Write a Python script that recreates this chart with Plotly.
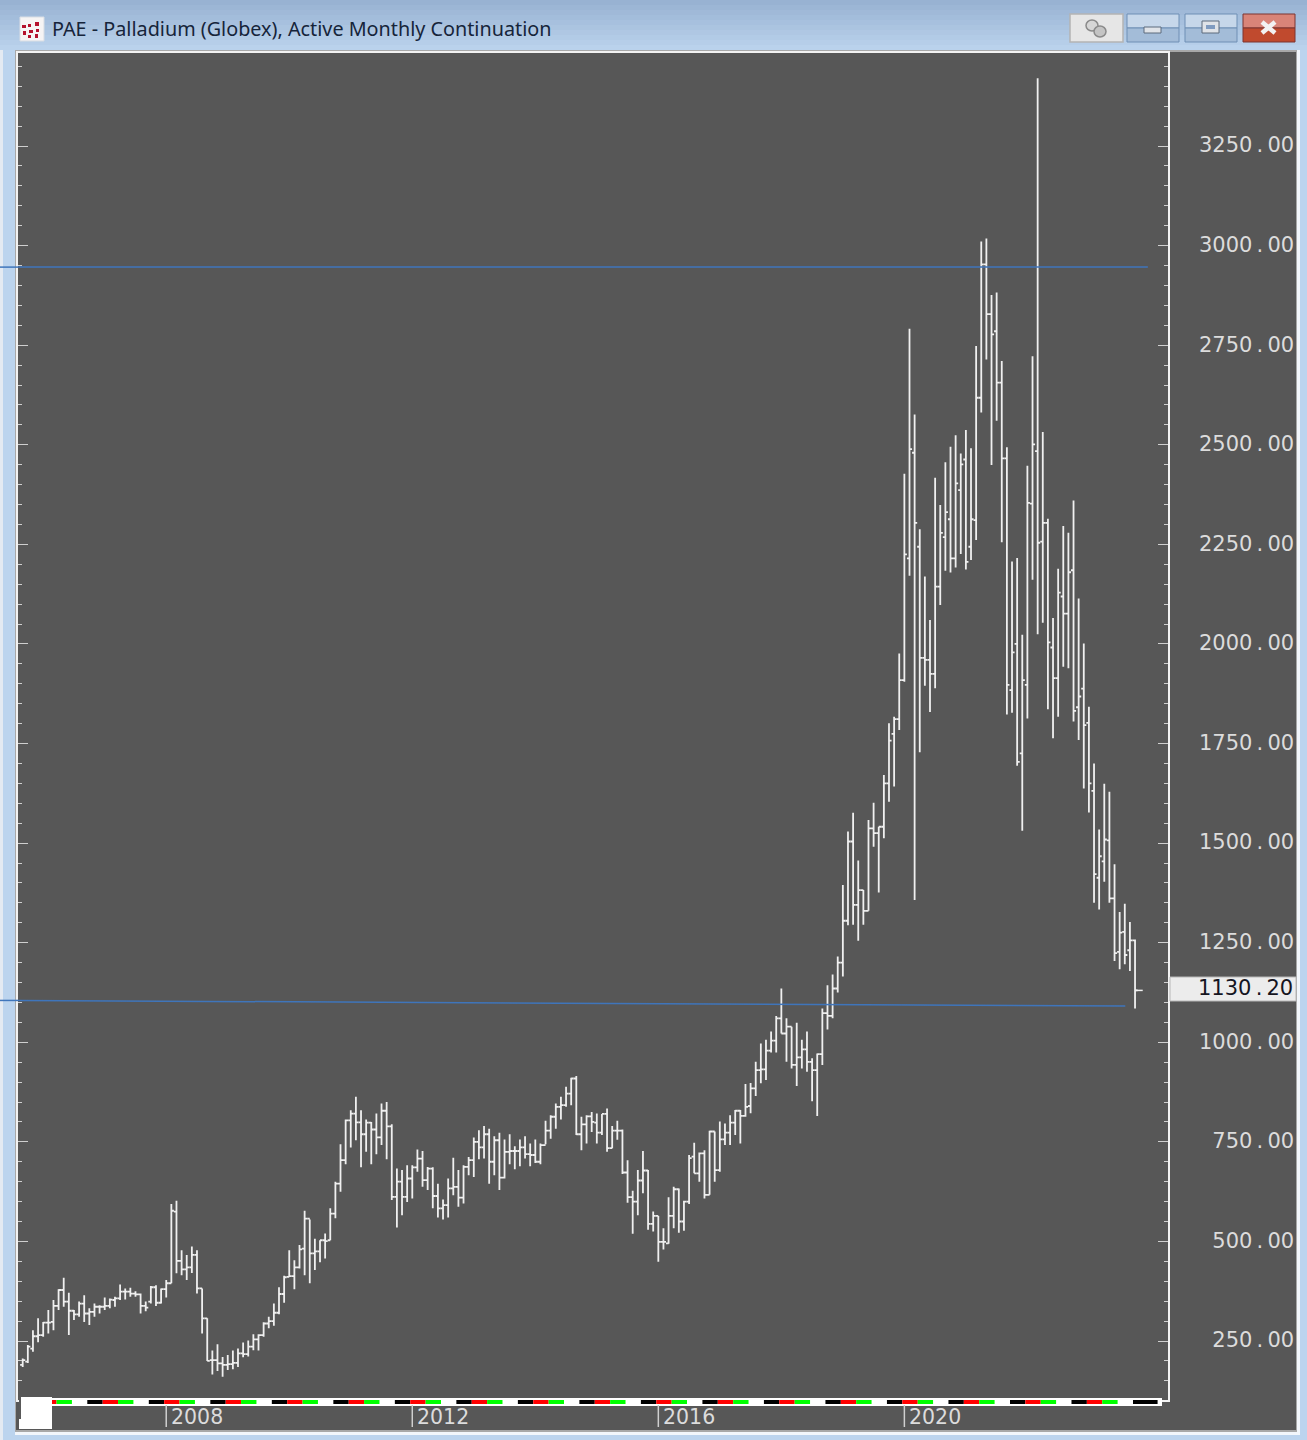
import plotly.graph_objects as go

# Monthly palladium bars, Sep 2005 to Oct 2023
highs = [206,240,277,307,298,328,353,380,409,371,328,349,365,332,344,340,359,357,361,392,382,384,375,369,349,388,390,382,403,594,
         602,478,466,487,478,382,307,226,242,210,215,226,231,246,251,267,267,297,311,344,385,414,478,453,491,577,555,507,503,520,
         583,650,744,806,829,863,829,806,800,821,846,850,794,683,679,691,691,731,727,687,686,645,605,658,710,679,691,712,761,779,
         790,783,764,773,756,769,739,756,764,746,756,746,803,817,846,863,888,911,915,813,817,825,821,820,834,790,803,781,704,627,
         679,727,679,575,564,533,611,637,633,602,717,748,723,729,778,776,801,796,817,830,830,895,898,951,997,1006,1027,1066,1135,1060,
         1039,1049,1006,1027,960,972,1085,1143,1170,1215,1395,1529,1576,1456,1382,1558,1601,1541,1671,1801,1817,1976,2427,2791,2576,2288,2169,2060,2417,2349,
         2456,2495,2524,2478,2537,2491,2748,3010,3018,2876,2882,2710,2494,2207,2216,2023,2447,2722,3420,2532,2314,2065,2189,2296,2279,2360,2114,2001,1842,1700,
         1534,1649,1629,1447,1327,1348,1302,1258]
lows = [185,195,223,247,261,269,277,328,336,265,303,311,298,290,311,319,328,332,336,353,354,361,361,319,325,344,338,344,359,395,
        420,415,403,421,369,269,200,166,175,160,177,179,185,209,211,227,226,261,282,288,317,346,411,380,432,415,395,428,448,457,
        503,558,625,694,736,754,686,725,694,719,742,706,604,535,566,599,608,675,637,629,583,560,555,560,616,587,595,666,662,706,
        708,645,666,629,658,694,681,689,708,689,697,694,744,758,783,806,838,842,767,729,746,775,746,767,725,734,755,669,597,519,
        566,621,529,525,449,480,494,533,522,527,594,671,650,608,617,650,675,742,742,767,746,813,822,865,897,905,974,974,1022,951,
        934,890,934,926,852,815,943,1032,1060,1125,1165,1294,1295,1255,1295,1330,1491,1376,1512,1604,1642,1784,1905,2171,1357,1728,1895,1829,1889,2098,
        2184,2179,2192,2226,2187,2211,2261,2581,2714,2449,2560,2255,1823,1827,1694,1531,1813,2161,2024,2053,1836,1763,1817,1943,1939,1805,1759,1637,1577,1350,
        1333,1403,1350,1204,1183,1196,1179,1085]
opens = [190,198,231,262,265,296,298,338,378,349,326,317,344,319,323,336,336,338,353,357,374,374,369,367,338,349,385,346,380,395,
         575,451,430,435,466,382,307,202,202,194,190,192,195,219,217,236,254,265,294,300,321,368,411,413,435,482,557,470,475,503,
         503,570,645,704,804,821,799,769,798,781,761,828,789,612,650,612,658,686,708,654,683,614,583,591,633,637,610,687,704,750,
         736,769,700,754,660,725,727,727,736,719,717,700,742,778,813,838,842,871,909,769,794,814,798,773,820,734,778,778,673,611,
         600,653,678,544,564,499,495,564,631,550,600,713,671,721,617,776,679,756,773,798,828,815,840,884,930,932,979,1004,1060,1022,
         1039,943,962,982,951,930,970,1073,1066,1135,1200,1305,1504,1345,1382,1330,1537,1525,1541,1650,1774,1811,1909,2215,2480,2244,1965,1960,1925,2144,
         2268,2313,2215,2386,2463,2244,2311,2618,2953,2828,2785,2656,2466,1884,2000,1725,1897,2352,2484,2257,2304,1991,1914,2119,2076,2185,1841,1888,1802,1631,
         1413,1454,1507,1361,1227,1277,1231,1256]
closes = [202,236,262,265,296,296,338,378,349,326,317,344,319,323,336,336,338,354,357,374,374,369,367,338,334,385,346,380,395,577,
          451,430,435,466,382,307,200,202,194,190,192,195,219,217,236,254,265,294,300,321,368,410,413,435,480,557,470,475,503,501,
          570,645,704,804,821,799,769,798,781,761,828,789,612,650,612,658,686,708,654,683,614,583,591,633,637,610,687,704,750,736,
          769,700,754,660,725,727,727,736,719,717,700,742,778,813,838,842,871,909,769,794,814,800,773,820,734,778,778,673,611,600,
          653,678,544,564,499,499,564,631,550,600,709,671,721,617,776,679,756,773,798,828,815,838,884,930,932,979,1004,1060,1022,1039,
          943,962,982,951,930,970,1073,1066,1135,1200,1305,1504,1345,1382,1330,1537,1525,1541,1650,1757,1811,1909,2225,2489,2304,1965,1960,1925,2144,2279,
          2331,2215,2403,2451,2206,2313,2618,2953,2828,2777,2656,2466,1897,1979,1704,1909,2354,2501,2254,2304,2004,1914,2129,2076,2180,1832,1868,1796,1650,1422,
          1467,1509,1361,1224,1275,1219,1256,1130.2]
first_year = 2005
first_month = 9
years = [2008, 2012, 2016, 2020]
y_ticks = [250, 500, 750, 1000, 1250, 1500, 1750, 2000, 2250, 2500, 2750, 3000, 3250]

# blue lines drawn by hand on the chart
level_x = [-0.9, 219.5]
level_y = [2946, 2946]
trend_x = [-0.9, 215.1]
trend_y = [1105, 1091]

BG = "#575757"
FG = "#f0f0f0"
LABEL = "#dcdcdc"
BLUE = "#3f75bb"
FONT = "DejaVu Sans"
Y_RANGE = [101.9, 3483.5]

# frame of the plot area in page pixels
L, R, T, B = 18, 1168, 53, 1400


def px(x):
    return (x - L) / (R - L)


def py(y):
    return (B - y) / (B - T)


def price_to_paper(v):
    return (v - Y_RANGE[0]) / (Y_RANGE[1] - Y_RANGE[0])


def month_index(year, month=1):
    return (year - first_year) * 12 + month - first_month


def rect(x0, y0, x1, y1, fill, line=None, width=1, layer="above"):
    return dict(type="rect", xref="paper", yref="paper", x0=px(x0), x1=px(x1), y0=py(y0), y1=py(y1),
                fillcolor=fill, line=dict(color=line or fill, width=width if line else 0), layer=layer)


def seg(x0, y0, x1, y1, color, width=1):
    return dict(type="line", xref="paper", yref="paper", x0=px(x0), x1=px(x1), y0=py(y0), y1=py(y1),
                line=dict(color=color, width=width))


def price_text(v):
    whole, dec = f"{v:.2f}".split(".")
    return f"{whole}\u2009.\u2009{dec}"


x_idx = list(range(len(closes)))

fig = go.Figure()

fig.add_trace(go.Ohlc(
    x=x_idx, open=opens, high=highs, low=lows, close=closes,
    increasing=dict(line=dict(color=FG, width=1.8)),
    decreasing=dict(line=dict(color=FG, width=1.8)),
    tickwidth=0.5, hoverinfo="skip", showlegend=False,
))

# last close sticks out to the right
fig.add_trace(go.Scatter(x=[x_idx[-1], x_idx[-1] + 1.5], y=[closes[-1], closes[-1]], mode="lines",
                         line=dict(color=FG, width=1.5), hoverinfo="skip", showlegend=False))

fig.add_trace(go.Scatter(x=level_x, y=level_y, mode="lines", line=dict(color=BLUE, width=1.5),
                         hoverinfo="skip", showlegend=False))
fig.add_trace(go.Scatter(x=trend_x, y=trend_y, mode="lines", line=dict(color=BLUE, width=1.5),
                         hoverinfo="skip", showlegend=False))

shapes = []

# window chrome: title bar gradient, panel, edges
top_c = (152, 178, 210)
bot_c = (186, 210, 236)
for i in range(10):
    t = i / 9
    c = tuple(round(a + (b - a) * t) for a, b in zip(top_c, bot_c))
    shapes.append(rect(0, i * 5, 1307, i * 5 + 5, "rgb(%d,%d,%d)" % c, layer="below"))
shapes.append(rect(0, 50, 1307, 1440, "#bcd4ee", layer="below"))
shapes.append(rect(0, 50, 3, 1440, "#e4eaf2", layer="below"))
shapes.append(rect(15, 50, 1297, 1432, "#a8a8a8", layer="below"))
shapes.append(rect(15, 1432, 1300, 1435, "#f2f6fb", layer="below"))
shapes.append(rect(1297, 50, 1300, 1435, "#f2f6fb", layer="below"))
shapes.append(rect(16, 52, 1296, 1430, BG, layer="below"))

# the hand drawn lines run past the frame on the left, where traces get clipped
for values in (level_y, trend_y):
    shapes.append(dict(type="line", xref="paper", yref="paper", x0=px(0), x1=px(L),
                       y0=price_to_paper(values[0]), y1=price_to_paper(values[0]),
                       line=dict(color=BLUE, width=1.5)))

# year strip along the bottom: one colour per quarter
shapes.append(rect(52, 1398, 1162, 1406, "#ffffff"))
for year in range(first_year, years[-1] + 4):
    start = month_index(year)
    for offset, color in ((0, "#ff0000"), (3, "#00ff00"), (9, "#000000")):
        a, b = start + offset, start + offset + 3
        if a < 4 or a > x_idx[-1]:
            continue
        if a == x_idx[-1]:
            b = a + 4.8
        shapes.append(dict(type="rect", xref="x", yref="paper", x0=a - 0.4, x1=b - 0.4, y0=py(1404), y1=py(1400),
                           fillcolor=color, line=dict(width=0)))
shapes.append(rect(19, 1397, 52, 1429, "#ffffff"))
shapes.append(seg(20, 1397, 20, 1419, "#222222", 1.5))

# year ticks under the strip
for year in years:
    shapes.append(dict(type="line", xref="x", yref="paper", x0=month_index(year), x1=month_index(year),
                       y0=py(1405), y1=py(1427), line=dict(color="#cfcfcf", width=1.5)))

# last price box
shapes.append(rect(1170, 977, 1296, 1001, "#ececec", "#b8b8b8"))

# title bar logo
shapes.append(rect(20, 17, 44, 41, "#f6f4f4", "#d8dde4"))
for x0, y0, x1, y1 in [(22, 25, 26, 28), (23, 31, 26, 35), (28, 24, 31, 27), (29, 30, 33, 33), (28, 35, 31, 38),
                       (35, 22, 39, 26), (36, 29, 39, 32), (35, 34, 38, 38)]:
    shapes.append(rect(x0, y0, x1, y1, "#b5112c"))

# link button
shapes.append(rect(1070, 14, 1123, 42, "#e6e6e6", "#b4b4b4", 1.5))
shapes.append(dict(type="circle", xref="paper", yref="paper", x0=px(1086), x1=px(1098), y0=py(20), y1=py(31),
                   fillcolor="#d6d6d6", line=dict(color="#8a8a8a", width=1.5)))
shapes.append(dict(type="circle", xref="paper", yref="paper", x0=px(1094), x1=px(1106), y0=py(26), y1=py(37),
                   fillcolor="#c4c4c4", line=dict(color="#8a8a8a", width=1.5)))

# minimise and maximise
for x0, x1 in [(1127, 1179), (1185, 1237)]:
    shapes.append(rect(x0, 14, x1, 28, "#c6d7ea", "#6f8fb5", 1))
    shapes.append(rect(x0, 28, x1, 42, "#a3bcd8", "#6f8fb5", 1))
shapes.append(rect(1144, 27, 1161, 33, "#dfe3e8", "#5c6a7c", 1))
shapes.append(rect(1202, 21, 1219, 33, "#dfe3e8", "#5c6a7c", 1))
shapes.append(rect(1206, 25, 1215, 29, "#7f9bc0"))

# close
shapes.append(rect(1243, 14, 1295, 28, "#d98478", "#7d3530", 1))
shapes.append(rect(1243, 28, 1295, 42, "#c04a2e", "#7d3530", 1))
shapes.append(seg(1262, 22, 1275, 33, "#f2f2f2", 4.5))
shapes.append(seg(1275, 22, 1262, 33, "#f2f2f2", 4.5))

annotations = [dict(text=str(year), xref="x", yref="paper", x=month_index(year), y=py(1417), xanchor="left",
                    yanchor="middle", xshift=3, showarrow=False, font=dict(family=FONT, size=20.5, color=LABEL))
               for year in years]
annotations.append(dict(text=price_text(closes[-1]), xref="paper", yref="paper", x=px(1295), y=py(988),
                        xanchor="right", yanchor="middle", showarrow=False,
                        font=dict(family=FONT, size=21, color="#15151f")))

fig.update_layout(
    width=1307, height=1440,
    margin=dict(l=L, r=1307 - R, t=T, b=1440 - B, autoexpand=False),
    paper_bgcolor="#bcd4ee",
    plot_bgcolor=BG,
    showlegend=False,
    title=dict(text="PAE - Palladium (Globex), Active Monthly Continuation", xref="paper", yref="container",
               x=px(52), xanchor="left", y=1 - 29 / 1440, yanchor="middle",
               font=dict(family="Noto Sans", size=19.8, color="#16243a")),
    shapes=shapes,
    annotations=annotations,
)

fig.update_xaxes(range=[-0.917, 223.43], rangeslider_visible=False, showgrid=False, zeroline=False,
                 showticklabels=False, ticks="", showline=True, linecolor="#f2f2f2", linewidth=1.5, mirror=True)

fig.update_yaxes(range=Y_RANGE, side="right", showgrid=False, zeroline=False,
                 tickmode="array", tickvals=y_ticks,
                 ticktext=["\u2007" * (4 - len(str(v))) + price_text(v) for v in y_ticks],
                 ticks="inside", ticklen=10, tickwidth=1, tickcolor="#cfcfcf",
                 minor=dict(dtick=50, tick0=0, ticks="inside", ticklen=4, tickwidth=1, tickcolor="#cfcfcf"),
                 showline=True, linecolor="#f2f2f2", linewidth=1.5, mirror="allticks",
                 ticklabelstandoff=25, ticklabelshift=-1,
                 tickfont=dict(family=FONT, size=21, color=LABEL))

fig.write_html("out.html", config={"displayModeBar": False},
               post_script="document.body.style.margin='0';document.body.style.overflow='hidden';")
